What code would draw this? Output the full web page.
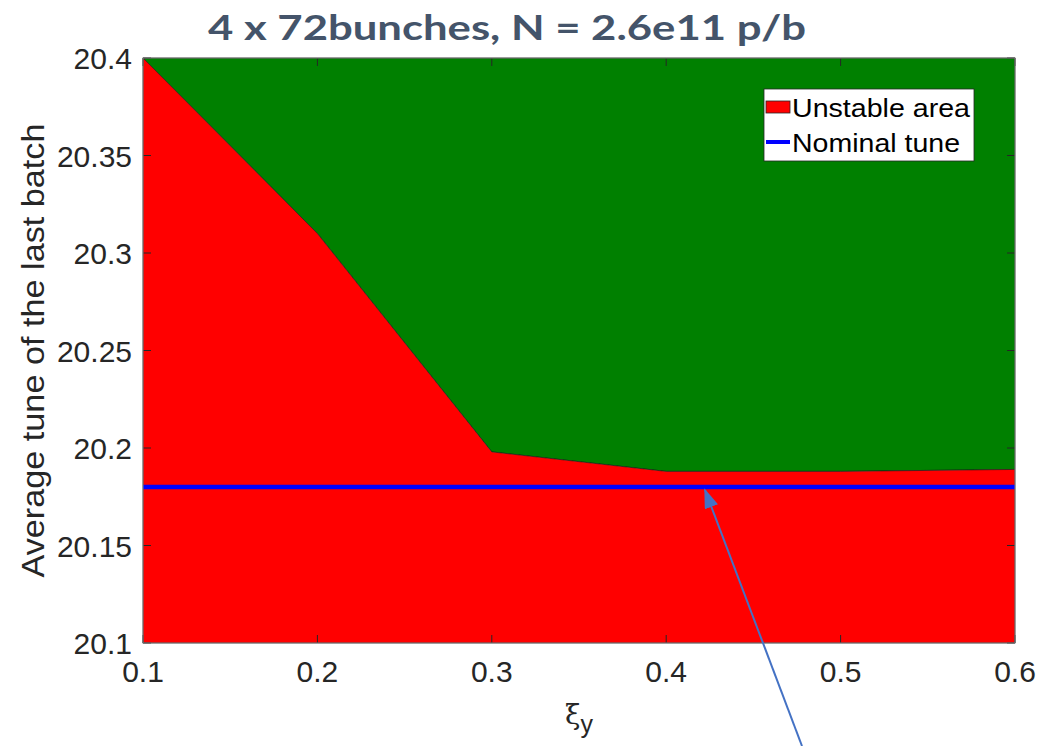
<!DOCTYPE html>
<html>
<head>
<meta charset="utf-8">
<script src="https://cdn.jsdelivr.net/npm/d3@7"></script>
<style>
  html, body { margin: 0; padding: 0; background: #fff; }
  svg { display: block; }
</style>
</head>
<body>
<div id="plot"></div>
<script>
// chromaticity values on the x axis
const xi = [0.1, 0.2, 0.3, 0.4, 0.5, 0.6];
// upper edge of the unstable (red) region at each xi
const unstableEdge = [20.4, 20.31, 20.198, 20.188, 20.188, 20.189];
const nominalTune = 20.18;
const yTicks = [20.1, 20.15, 20.2, 20.25, 20.3, 20.35, 20.4];
const xTicks = [0.1, 0.2, 0.3, 0.4, 0.5, 0.6];
const legendLabels = ["Unstable area", "Nominal tune"];

const makePlot = () => {
  const size = { width: 1040, height: 746 };
  const margin = { top: 58, bottom: 103, left: 143, right: 25 };

  const svg = d3
    .select("#plot")
    .append("svg")
    .attr("width", size.width)
    .attr("height", size.height)
    .style("font-family", "Liberation Sans, Arial, sans-serif");

  const x = d3
    .scaleLinear()
    .domain([0.1, 0.6])
    .range([margin.left, size.width - margin.right]);

  const y = d3
    .scaleLinear()
    .domain([20.1, 20.4])
    .range([size.height - margin.bottom, margin.top]);

  const data = xi.map((v, i) => ({ xi: v, edge: unstableEdge[i] }));

  // stable area (green) above the edge
  svg
    .append("path")
    .datum(data)
    .attr(
      "d",
      d3
        .area()
        .x((d) => x(d.xi))
        .y0(y(20.4))
        .y1((d) => y(d.edge))
    )
    .attr("fill", "#008000")
    .attr("stroke", "#1a1a1a")
    .attr("stroke-width", 0.6);

  // unstable area (red) below the edge
  svg
    .append("path")
    .datum(data)
    .attr(
      "d",
      d3
        .area()
        .x((d) => x(d.xi))
        .y0(y(20.1))
        .y1((d) => y(d.edge))
    )
    .attr("fill", "#ff0000")
    .attr("stroke", "#1a1a1a")
    .attr("stroke-width", 0.6);

  // nominal tune
  svg
    .append("line")
    .attr("x1", x(0.1))
    .attr("x2", x(0.6))
    .attr("y1", y(nominalTune))
    .attr("y2", y(nominalTune))
    .attr("stroke", "#0000ff")
    .attr("stroke-width", 4.5);

  // box + inward ticks
  const tickLen = 8;
  const ticks = svg.append("g").attr("stroke", "#262626").attr("stroke-width", 1);
  xTicks.forEach((v) => {
    ticks.append("line").attr("x1", x(v)).attr("x2", x(v))
      .attr("y1", y(20.1)).attr("y2", y(20.1) - tickLen);
    ticks.append("line").attr("x1", x(v)).attr("x2", x(v))
      .attr("y1", y(20.4)).attr("y2", y(20.4) + tickLen);
  });
  yTicks.forEach((v) => {
    ticks.append("line").attr("x1", x(0.1)).attr("x2", x(0.1) + tickLen)
      .attr("y1", y(v)).attr("y2", y(v));
    ticks.append("line").attr("x1", x(0.6)).attr("x2", x(0.6) - tickLen)
      .attr("y1", y(v)).attr("y2", y(v));
  });
  svg
    .append("rect")
    .attr("x", x(0.1))
    .attr("y", y(20.4))
    .attr("width", x(0.6) - x(0.1))
    .attr("height", y(20.1) - y(20.4))
    .attr("fill", "none")
    .attr("stroke", "#808080")
    .attr("stroke-width", 1);

  // tick labels
  svg
    .append("g")
    .selectAll("text")
    .data(yTicks)
    .join("text")
    .text((d) => +d.toFixed(2))
    .attr("x", x(0.1) - 11)
    .attr("y", (d) => y(d) + 11)
    .attr("text-anchor", "end")
    .attr("font-size", 30)
    .attr("fill", "#262626");

  svg
    .append("g")
    .selectAll("text")
    .data(xTicks)
    .join("text")
    .text((d) => d.toFixed(1))
    .attr("x", (d) => x(d))
    .attr("y", y(20.1) + 39)
    .attr("text-anchor", "middle")
    .attr("font-size", 30)
    .attr("fill", "#262626");

  // axis labels
  svg
    .append("text")
    .text("Average tune of the last batch")
    .attr("transform", `translate(44, ${(y(20.1) + y(20.4)) / 2}) rotate(-90)`)
    .attr("text-anchor", "middle")
    .attr("font-size", 32)
    .attr("textLength", 454)
    .attr("lengthAdjust", "spacingAndGlyphs")
    .attr("fill", "#262626");

  const xl = svg
    .append("text")
    .attr("x", 565)
    .attr("y", 724)
    .attr("font-size", 30)
    .attr("fill", "#262626");
  xl.append("tspan").text("ξ").style("font-family", "DejaVu Serif, serif").attr("font-size", 28);
  xl.append("tspan").text("y").attr("font-size", 25).attr("dy", 9);

  // title
  svg
    .append("text")
    .text("4 x 72bunches, N = 2.6e11 p/b")
    .attr("x", 507)
    .attr("y", 40)
    .attr("text-anchor", "middle")
    .attr("font-size", 35)
    .attr("font-weight", "bold")
    .attr("textLength", 598)
    .attr("lengthAdjust", "spacingAndGlyphs")
    .style("font-family", "Lato, Open Sans, sans-serif")
    .attr("fill", "#44546a");

  // legend
  const lg = svg.append("g");
  lg.append("rect")
    .attr("x", 764).attr("y", 89).attr("width", 210).attr("height", 72)
    .attr("fill", "#fff").attr("stroke", "#262626").attr("stroke-width", 0.8);
  lg.append("rect")
    .attr("x", 766).attr("y", 101).attr("width", 24).attr("height", 12)
    .attr("fill", "#ff0000").attr("stroke", "#262626").attr("stroke-width", 0.8);
  lg.append("line")
    .attr("x1", 766).attr("x2", 790).attr("y1", 142).attr("y2", 142)
    .attr("stroke", "#0000ff").attr("stroke-width", 4);
  legendLabels.forEach((t, i) => {
    lg.append("text")
      .text(t)
      .attr("x", 792)
      .attr("y", 117 + i * 35)
      .attr("font-size", 26)
      .attr("textLength", i === 0 ? 178 : 168)
      .attr("lengthAdjust", "spacingAndGlyphs")
      .attr("fill", "#000");
  });

  // annotation arrow pointing at the nominal tune
  const defs = svg.append("defs");
  defs
    .append("marker")
    .attr("id", "arrowHead")
    .attr("viewBox", "0 0 20 14")
    .attr("refX", 18)
    .attr("refY", 7)
    .attr("markerWidth", 20)
    .attr("markerHeight", 14)
    .attr("markerUnits", "userSpaceOnUse")
    .attr("orient", "auto")
    .append("path")
    .attr("d", "M0,0 L20,7 L0,14 z")
    .attr("fill", "#4472c4");
  svg
    .append("line")
    .attr("x1", 802)
    .attr("y1", 746)
    .attr("x2", 705)
    .attr("y2", y(nominalTune) + 3)
    .attr("stroke", "#4472c4")
    .attr("stroke-width", 2)
    .attr("marker-end", "url(#arrowHead)");
};

makePlot();
</script>
</body>
</html>
